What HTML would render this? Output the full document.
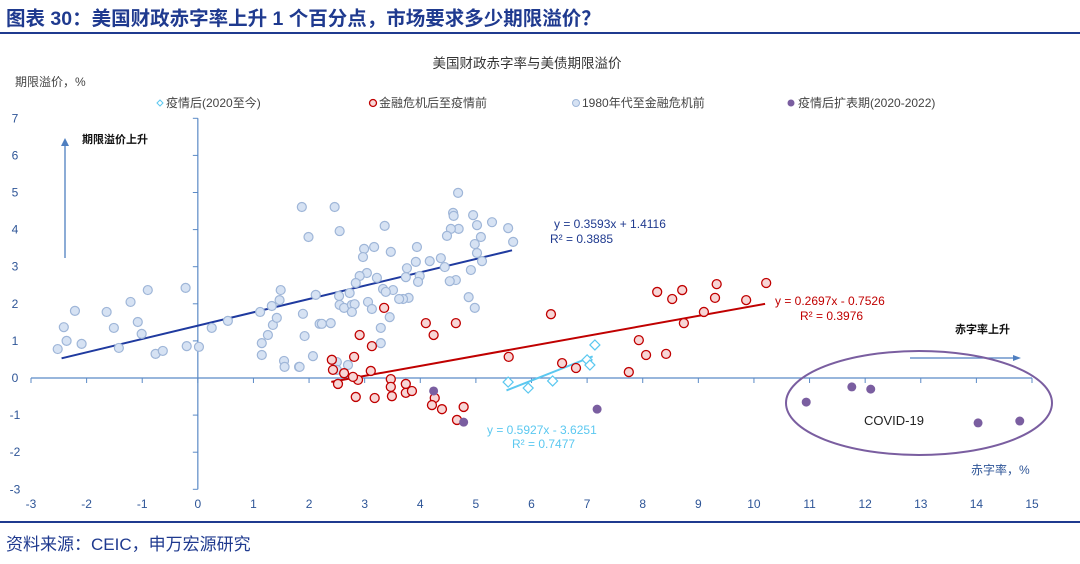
<!DOCTYPE html>
<html><head><meta charset="utf-8"><style>
body{margin:0;width:1080px;height:559px;background:#fff;overflow:hidden;font-family:"Liberation Sans","Noto Sans CJK SC",sans-serif}
svg text{font-family:"Liberation Sans","Noto Sans CJK SC",sans-serif}
</style></head><body>
<svg id="chart" width="1080" height="559" xmlns="http://www.w3.org/2000/svg">
<text x="6" y="25" font-size="19.5" font-weight="bold" fill="#1f3a8f">图表 30：美国财政赤字率上升 1 个百分点，市场要求多少期限溢价？</text>
<line x1="0" y1="33" x2="1080" y2="33" stroke="#1f3a8f" stroke-width="2"/>
<text x="527" y="68" font-size="13.5" fill="#333" text-anchor="middle">美国财政赤字率与美债期限溢价</text>
<text x="15" y="86" font-size="12" fill="#444">期限溢价，%</text>
<text x="971" y="474" font-size="12" fill="#2e5597">赤字率，%</text>
<g font-size="12" fill="#444">
<g><path d="M157,103 l3,-3 l3,3 l-3,3z" fill="none" stroke="#5bc8f0"/><text x="166" y="107">疫情后(2020至今)</text></g>
<g><circle cx="373" cy="103" r="3.5" fill="#f7d6d6" stroke="#c00000" stroke-width="1.3"/><text x="379" y="107">金融危机后至疫情前</text></g>
<g><circle cx="576" cy="103" r="3.5" fill="#d6e2f3" stroke="#9fb6d8"/><text x="582" y="107">1980年代至金融危机前</text></g>
<g><circle cx="791" cy="103" r="3.5" fill="#7a5ea0"/><text x="798" y="107">疫情后扩表期(2020-2022)</text></g>
</g>
<g id="axes"></g>
<g id="marks"></g>
<g>
<line x1="65" y1="258" x2="65" y2="142" stroke="#4f7fc0" stroke-width="1.3"/><path d="M61,146 L65,138 L69,146z" fill="#4f7fc0"/>
<text x="82" y="143" font-size="11" font-weight="bold" fill="#111">期限溢价上升</text>
<line x1="910" y1="358" x2="1015" y2="358" stroke="#4f7fc0" stroke-width="1.3"/><path d="M1013,355 L1021,358 L1013,361z" fill="#4f7fc0"/>
<text x="955" y="333" font-size="11" font-weight="bold" fill="#111">赤字率上升</text>
<ellipse cx="919" cy="403" rx="133" ry="52" fill="none" stroke="#7a5ea0" stroke-width="2"/>
<text x="864" y="425" font-size="13" fill="#222">COVID-19</text>
<text x="554" y="228" font-size="12" fill="#1f3a8f">y = 0.3593x + 1.4116</text>
<text x="550" y="243" font-size="12" fill="#1f3a8f">R² = 0.3885</text>
<text x="775" y="305" font-size="12" fill="#c00000">y = 0.2697x - 0.7526</text>
<text x="800" y="320" font-size="12" fill="#c00000">R² = 0.3976</text>
<text x="487" y="434" font-size="12" fill="#5bc8f0">y = 0.5927x - 3.6251</text>
<text x="512" y="448" font-size="12" fill="#5bc8f0">R² = 0.7477</text>
</g>
<text x="6" y="550" font-size="17" fill="#1f3a8f">资料来源：CEIC，申万宏源研究</text>
<line x1="0" y1="522" x2="1080" y2="522" stroke="#1f3a8f" stroke-width="2"/>
</svg>
<script>
const xTicks=[-3,-2,-1,0,1,2,3,4,5,6,7,8,9,10,11,12,13,14,15];
const yTicks=[-3,-2,-1,0,1,2,3,4,5,6,7];
const blueX=[-2.52,-2.41,-2.21,-2.36,-2.09,-1.42,-1.51,-1.21,-0.9,-0.76,-0.63,-1.08,-1.01,-1.64,-0.22,-0.2,0.02,0.25,0.54,1.12,1.15,1.15,1.26,1.35,1.42,1.33,1.47,1.49,1.55,1.56,1.82,1.87,2.46,2.55,1.99,3.36,4.68,4.59,4.6,4.95,5.29,5.58,5.67,5.02,4.69,4.55,4.48,4.98,5.09,5.02,5.11,4.91,4.87,4.98,4.64,4.53,4.44,4.37,4.17,3.94,3.92,3.47,3.17,2.99,2.97,3.76,3.74,3.99,3.96,3.79,3.69,3.62,3.51,3.45,3.29,3.29,3.04,2.91,2.84,3.22,3.33,3.38,2.73,2.54,2.55,2.63,2.77,2.82,2.77,3.06,3.13,2.12,1.89,1.92,2.19,2.23,2.39,2.07,1.83,2.5,2.7,2.5];
const blueY=[0.78,1.37,1.81,1.0,0.92,0.81,1.35,2.05,2.37,0.65,0.73,1.51,1.19,1.78,2.43,0.86,0.84,1.35,1.54,1.78,0.94,0.62,1.16,1.43,1.62,1.94,2.1,2.37,0.46,0.3,0.3,4.61,4.61,3.96,3.8,4.1,4.99,4.45,4.37,4.39,4.2,4.04,3.67,4.12,4.02,4.02,3.83,3.61,3.8,3.37,3.15,2.91,2.18,1.89,2.64,2.61,2.99,3.23,3.15,3.53,3.13,3.4,3.53,3.48,3.26,2.96,2.72,2.75,2.59,2.16,2.13,2.13,2.37,1.64,1.35,0.94,2.83,2.75,2.56,2.7,2.4,2.32,2.29,2.21,1.97,1.89,1.97,1.99,1.78,2.05,1.86,2.24,1.73,1.13,1.46,1.46,1.48,0.59,0.3,0.43,0.35,0.22];
const redX=[3.35,4.1,4.64,4.24,2.91,3.13,2.81,2.41,2.43,2.63,3.11,2.52,2.88,2.79,3.47,3.47,3.74,3.74,3.85,3.49,3.18,2.84,4.26,4.21,4.39,4.78,4.66,5.59,6.35,6.55,6.8,7.75,7.93,8.06,8.42,8.26,8.53,8.71,8.74,9.1,9.3,9.33,9.86,10.22];
const redY=[1.89,1.48,1.48,1.16,1.16,0.86,0.57,0.49,0.22,0.13,0.19,-0.16,-0.05,0.03,-0.03,-0.24,-0.16,-0.4,-0.35,-0.49,-0.54,-0.51,-0.54,-0.73,-0.84,-0.78,-1.13,0.57,1.72,0.4,0.27,0.16,1.02,0.62,0.65,2.32,2.13,2.37,1.48,1.78,2.16,2.53,2.1,2.56];
const cyanX=[5.58,5.94,6.38,7.0,7.05,7.14];
const cyanY=[-0.11,-0.27,-0.08,0.49,0.35,0.89];
const purpleX=[4.24,4.78,7.18,10.94,11.76,12.1,14.03,14.78];
const purpleY=[-0.35,-1.19,-0.84,-0.65,-0.24,-0.3,-1.21,-1.16];
const trendSlopes=[0.3593,0.2697,0.5927];
const trendIntercepts=[1.4116,-0.7526,-3.6251];
const trendFrom=[-2.45,2.4,5.55];
const trendTo=[5.65,10.2,7.1];

const NS="http://www.w3.org/2000/svg";
const X=v=>31+(v+3)*(1001/18);
const Y=v=>378-v*37.1;
function mk(tag,attrs,parent){const e=document.createElementNS(NS,tag);for(const k in attrs)e.setAttribute(k,attrs[k]);parent.appendChild(e);return e;}
const axes=document.getElementById('axes'),marks=document.getElementById('marks');
let a=mk('line',{x1:X(-3),x2:X(15),y1:Y(0),y2:Y(0),stroke:'#5b8ac6','stroke-width':1.2},axes);


a=mk('line',{x1:X(0),x2:X(0),y1:Y(7),y2:Y(-3),stroke:'#5b8ac6','stroke-width':1.2},axes);


xTicks.forEach(t=>{mk('line',{x1:X(t),x2:X(t),y1:Y(0),y2:Y(0)+5,stroke:'#5b8ac6'},axes);
const tx=mk('text',{x:X(t),y:508,'font-size':12,fill:'#2e5597','text-anchor':'middle'},axes);tx.textContent=t;

});
yTicks.forEach(t=>{mk('line',{x1:X(0)-5,x2:X(0),y1:Y(t),y2:Y(t),stroke:'#5b8ac6'},axes);
const tx=mk('text',{x:15,y:Y(t)+4,'font-size':12,fill:'#2e5597','text-anchor':'middle'},axes);tx.textContent=t;

});
const tc=['#1f3a9f','#c00000','#5bc8f0'];
trendSlopes.forEach((m,i)=>{const l=mk('line',{x1:X(trendFrom[i]),y1:Y(m*trendFrom[i]+trendIntercepts[i]),x2:X(trendTo[i]),y2:Y(m*trendTo[i]+trendIntercepts[i]),stroke:tc[i],'stroke-width':2},marks);

});
blueX.forEach((v,i)=>{const c=mk('circle',{cx:X(v),cy:Y(blueY[i]),r:4.5,fill:'#d6e2f3',stroke:'#9fb6d8','stroke-width':1.2},marks);

});
redX.forEach((v,i)=>{const c=mk('circle',{cx:X(v),cy:Y(redY[i]),r:4.5,fill:'#f7d6d6',stroke:'#c00000','stroke-width':1.3},marks);

});
cyanX.forEach((v,i)=>{const cx=X(v),cy=Y(cyanY[i]);const c=mk('path',{d:`M${cx-5},${cy} L${cx},${cy-5} L${cx+5},${cy} L${cx},${cy+5}Z`,fill:'#fff',stroke:'#5bc8f0','stroke-width':1.2},marks);

});
purpleX.forEach((v,i)=>{const c=mk('circle',{cx:X(v),cy:Y(purpleY[i]),r:4.5,fill:'#7a5ea0'},marks);

});
</script>
</body></html>
